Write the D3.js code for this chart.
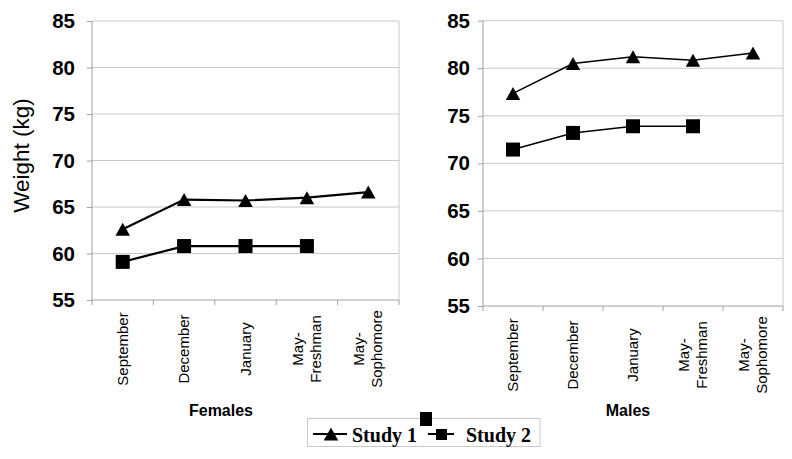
<!DOCTYPE html>
<html>
<head>
<meta charset="utf-8">
<script src="https://cdn.jsdelivr.net/npm/d3@7"></script>
<style>
  html, body { margin: 0; padding: 0; background: #fff; }
  svg { display: block; }
</style>
</head>
<body>
<svg id="chart" width="792" height="459"></svg>
<script>
const categories = ["September", "December", "January", "May-Freshman", "May-Sophomore"];
const categoryLines = [["September"], ["December"], ["January"], ["May-", "Freshman"], ["May-", "Sophomore"]];
const yTicks = [55, 60, 65, 70, 75, 80, 85];
const femaleStudy1 = [62.6, 65.8, 65.7, 66.0, 66.6];
const femaleStudy2 = [59.1, 60.8, 60.8, 60.8, null];
const maleStudy1 = [77.35, 80.5, 81.2, 80.85, 81.6];
const maleStudy2 = [71.45, 73.2, 73.9, 73.9, null];
const seriesNames = ["Study 1", "Study 2"];
const panelTitles = ["Females", "Males"];

const svg = d3.select("#chart");
const gridColor = "#c8c8c8";
const axisColor = "#a0a0a0";

const panels = [
  { title: panelTitles[0], s1: femaleStudy1, s2: femaleStudy2, x0: 92, x1: 399, yTop: 21, yBot: 300, lw: 2.2, labPad: 12, titleX: 221 },
  { title: panelTitles[1], s1: maleStudy1, s2: maleStudy2, x0: 483, x1: 783, yTop: 20.7, yBot: 306, lw: 1.5, labPad: 8, titleX: 628 }
];

function triPath(cx, cy) {
  const w = 14.5, h = 13;
  return `M${cx - w/2},${cy + h/2}L${cx},${cy - h/2}L${cx + w/2},${cy + h/2}Z`;
}

panels.forEach(p => {
  const x = d3.scaleBand().domain(categories).range([p.x0, p.x1]).paddingInner(0).paddingOuter(0);
  const y = d3.scaleLinear().domain([55, 85]).range([p.yBot, p.yTop]);
  const g = svg.append("g");

  // gridlines
  g.selectAll("line.grid").data(yTicks.filter(t => t > 55)).enter().append("line")
    .attr("x1", p.x0).attr("x2", p.x1)
    .attr("y1", d => y(d)).attr("y2", d => y(d))
    .attr("stroke", gridColor).attr("stroke-width", 1);

  // right border
  g.append("line").attr("x1", p.x1).attr("x2", p.x1).attr("y1", y(85)).attr("y2", y(55))
    .attr("stroke", gridColor).attr("stroke-width", 1);

  // y axis
  const yAxis = d3.axisLeft(y).tickValues(yTicks).tickSize(5).tickPadding(p.labPad).tickFormat(d3.format("d"));
  const ya = g.append("g").attr("transform", `translate(${p.x0},0)`).call(yAxis);
  ya.select(".domain").attr("stroke", axisColor).attr("d", `M-0,${y(55)}V${y(85)}`);
  ya.selectAll(".tick line").attr("stroke", axisColor);
  ya.selectAll(".tick text").attr("fill", "#000")
    .style("font-family", "Liberation Sans, Arial, sans-serif")
    .style("font-weight", "bold").style("font-size", "20.5px");

  // x axis line
  g.append("line").attr("x1", p.x0).attr("x2", p.x1).attr("y1", y(55)).attr("y2", y(55))
    .attr("stroke", axisColor).attr("stroke-width", 1);
  const bounds = categories.map(c => x(c)).concat([p.x1]);
  g.selectAll("line.xt").data(bounds).enter().append("line")
    .attr("x1", d => d).attr("x2", d => d)
    .attr("y1", y(55)).attr("y2", y(55) + 5)
    .attr("stroke", axisColor);

  // x labels rotated
  const labCy = y(55) + 49;
  categories.forEach((c, i) => {
    const cx = x(c) + x.bandwidth() / 2;
    const lines = categoryLines[i];
    const lh = 18;
    const t = g.append("text")
      .attr("transform", `translate(${cx},${labCy}) rotate(-90)`)
      .attr("text-anchor", "middle")
      .style("font-family", "Liberation Sans, Arial, sans-serif")
      .style("font-size", "15px").attr("fill", "#000");
    lines.forEach((ln, j) => {
      const off = (j - (lines.length - 1) / 2) * lh;
      t.append("tspan").attr("x", 0).attr("y", off + 5).text(ln);
    });
  });

  // panel title
  g.append("text").attr("x", p.titleX).attr("y", 416)
    .attr("text-anchor", "middle")
    .style("font-family", "Liberation Sans, Arial, sans-serif")
    .style("font-weight", "bold").style("font-size", "16px")
    .text(p.title);

  // series lines
  const line = d3.line().defined(d => d.v != null).x(d => x(d.c) + x.bandwidth() / 2).y(d => y(d.v));
  const d1 = categories.map((c, i) => ({ c, v: p.s1[i] }));
  const d2 = categories.map((c, i) => ({ c, v: p.s2[i] }));
  g.append("path").attr("d", line(d1)).attr("fill", "none").attr("stroke", "#000").attr("stroke-width", p.lw);
  g.append("path").attr("d", line(d2)).attr("fill", "none").attr("stroke", "#000").attr("stroke-width", p.lw);

  g.selectAll("path.tri").data(d1.filter(d => d.v != null)).enter().append("path")
    .attr("d", d => triPath(x(d.c) + x.bandwidth() / 2, y(d.v))).attr("fill", "#000");
  g.selectAll("rect.sq").data(d2.filter(d => d.v != null)).enter().append("rect")
    .attr("x", d => x(d.c) + x.bandwidth() / 2 - 7).attr("y", d => y(d.v) - 7)
    .attr("width", 14).attr("height", 14).attr("fill", "#000");
});

// y axis title
svg.append("text").attr("transform", "translate(29,155.5) rotate(-90)")
  .attr("text-anchor", "middle")
  .style("font-family", "Liberation Sans, Arial, sans-serif")
  .style("font-size", "22.5px").text("Weight (kg)");

// legend
const leg = svg.append("g");
leg.append("rect").attr("x", 307.5).attr("y", 418.5).attr("width", 232.5).attr("height", 28)
  .attr("fill", "#fff").attr("stroke", "#c8c8c8").attr("stroke-width", 1);
leg.append("line").attr("x1", 313).attr("x2", 347).attr("y1", 434).attr("y2", 434).attr("stroke", "#000").attr("stroke-width", 2);
leg.append("path").attr("d", triPath(331, 434)).attr("fill", "#000");
leg.append("text").attr("x", 352).attr("y", 442).text(seriesNames[0])
  .style("font-family", "Liberation Serif, Times New Roman, serif").style("font-weight", "bold").style("font-size", "20px");
leg.append("line").attr("x1", 428).attr("x2", 454).attr("y1", 434).attr("y2", 434).attr("stroke", "#000").attr("stroke-width", 2);
leg.append("rect").attr("x", 436).attr("y", 429).attr("width", 11).attr("height", 11).attr("fill", "#000");
leg.append("rect").attr("x", 420).attr("y", 412).attr("width", 12).attr("height", 14).attr("fill", "#000");
leg.append("text").attr("x", 466).attr("y", 442).text(seriesNames[1])
  .style("font-family", "Liberation Serif, Times New Roman, serif").style("font-weight", "bold").style("font-size", "20px");
</script>
</body>
</html>
